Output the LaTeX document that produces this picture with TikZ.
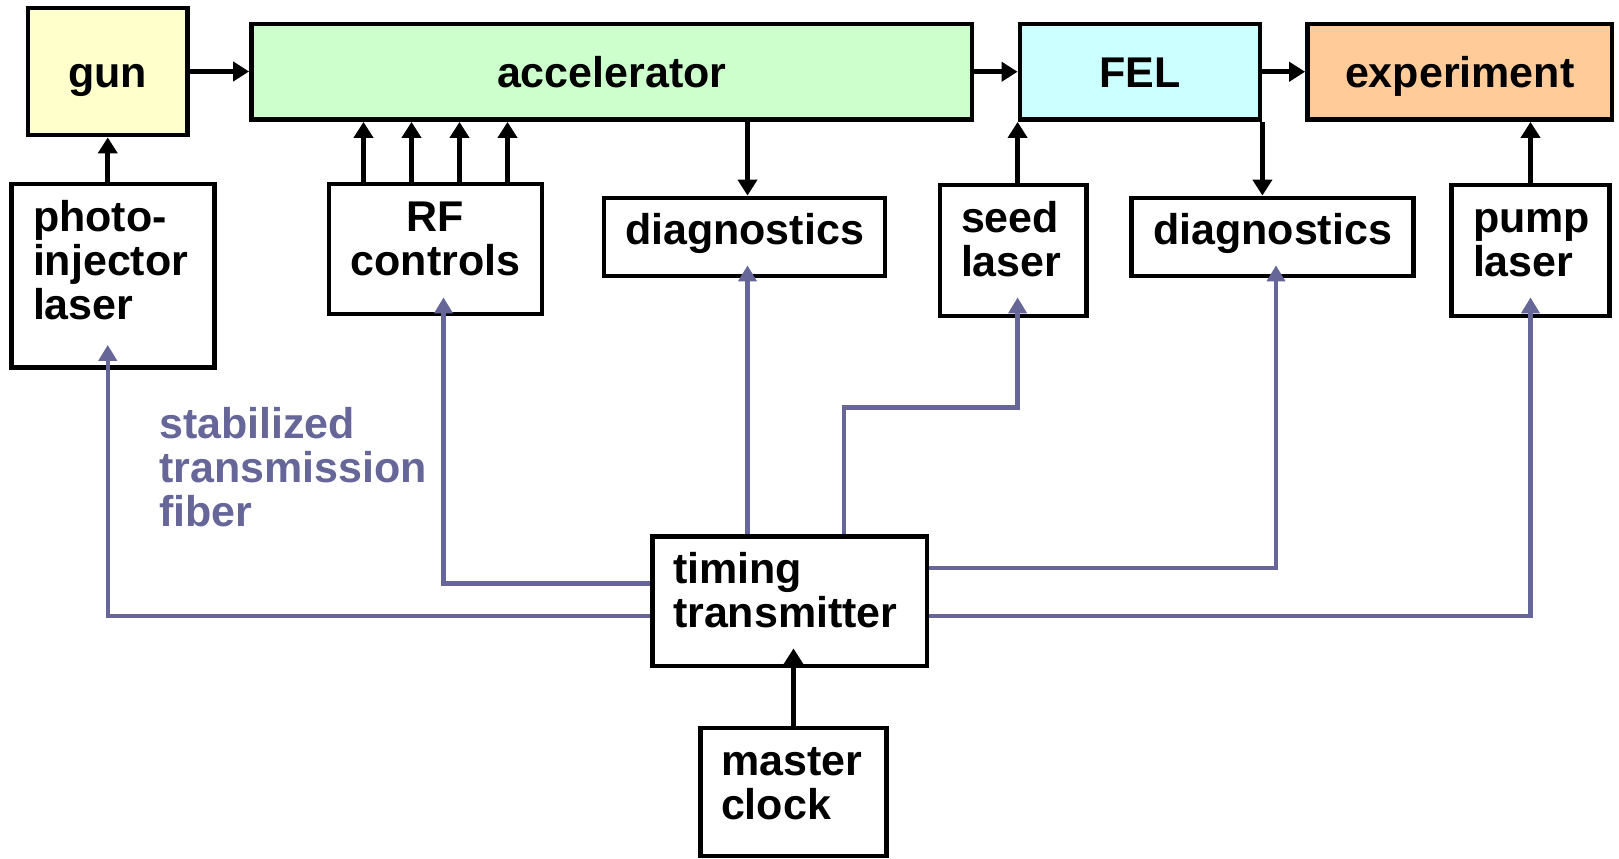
\documentclass[tikz,border=0pt]{standalone}
\usepackage{fontspec}
\setmainfont{Liberation Sans}
\usetikzlibrary{arrows.meta}

\definecolor{fiber}{HTML}{666699}
\definecolor{gunfill}{HTML}{FFFFCC}
\definecolor{accfill}{HTML}{CCFFCC}
\definecolor{felfill}{HTML}{CCFFFF}
\definecolor{expfill}{HTML}{FFCC99}

\begin{document}
\begin{tikzpicture}[x=1pt, y=-1pt,
    box/.style={draw, line width=4.8pt, fill=white, inner sep=0pt,
      font=\fontsize{43}{44}\selectfont\bfseries, text height=31pt},
    top/.style={box, minimum height=95.5pt, text depth=-1pt},
    lbox/.style={box, align=left},
    sig/.style={line width=4.8pt, -{Triangle[length=16pt,width=19pt]}},
    fib/.style={fiber, line width=4.5pt, -{Triangle[length=16pt,width=18pt]}}]
  \useasboundingbox (0,0) rectangle (1619,859);

  % beam line
  \node[top, fill=gunfill, minimum width=159.5pt, minimum height=127pt, text depth=-1.5pt] (gun) at (107.75,71.5) {gun};
  \node[top, fill=accfill, minimum width=720.5pt] (acc) at (611.75,71.75) {accelerator};
  \node[top, fill=felfill, minimum width=240pt] (fel) at (1140,71.75) {FEL};
  \node[top, fill=expfill, minimum width=304.5pt] (exp) at (1459.75,71.75) {experiment};

  % devices
  \node[lbox, minimum width=203pt, minimum height=183.5pt, text width=160pt, text depth=120pt] (pil) at (113,275.75) {photo-\\injector\\laser};
  \node[box, align=center, minimum width=213pt, minimum height=130pt, text width=200pt, text depth=66pt] (rf) at (435.5,249) {RF\\controls};
  \node[box, minimum width=281pt, minimum height=78pt, text depth=17pt] (diag1) at (744.5,237) {diagnostics};
  \node[lbox, minimum width=146.5pt, minimum height=131pt, text width=104.5pt, text depth=68pt] (seed) at (1013.25,250.5) {seed\\laser};
  \node[box, minimum width=282pt, minimum height=78pt, text depth=17pt] (diag2) at (1272.5,237) {diagnostics};
  \node[lbox, minimum width=158pt, minimum height=131pt, text width=115pt, text depth=68pt] (pump) at (1530.5,250.5) {pump\\laser};

  % timing
  \node[lbox, minimum width=274.5pt, minimum height=129.5pt, text width=233.5pt, text depth=66.5pt] (timing) at (789.75,601.25) {timing\\transmitter};
  \node[lbox, minimum width=186pt, minimum height=128pt, text width=145pt, text depth=65pt] (master) at (793.5,792) {master\\clock};

  \node[anchor=base west, inner sep=0pt, text width=300pt, align=left, text=fiber,
    font=\fontsize{43}{44}\selectfont\bfseries] (fiberlbl) at (159,438) {stabilized\\transmission\\fiber};

  \draw[sig] (gun.east) -- (gun.east -| acc.west);
  \draw[sig] (acc) -- (fel);
  \draw[sig] (fel) -- (exp);
  \draw[sig] (pil.north -| gun.south) -- (gun.south);
  \foreach \dx in {-72,-24,24,72}
    \draw[sig] ([xshift=\dx pt]rf.north) -- ([xshift=\dx pt]rf.north |- acc.south);
  \draw[sig] ([xshift=3pt]diag1.north |- acc.south) -- ([xshift=3pt]diag1.north);
  \draw[sig] (seed.north -| fel.west) -- (fel.south west);
  \draw[sig] (fel.south east) -- (fel.south east |- diag2.north);
  \draw[sig] (pump) -- (pump |- exp.south);
  \draw[sig, shorten >=-20pt] (master) -- (master |- timing.south);

  % fibers
  \draw[fib, shorten >=-25pt] ([yshift=-14.5pt]timing.west) -| (pil.south -| gun.south);
  \draw[fib, shorten >=-19pt] ([yshift=18pt]timing.west) -| ([xshift=8pt]rf.south);
  \draw[fib, shorten >=-13pt] ([xshift=3pt]diag1.south |- timing.north) -- ([xshift=3pt]diag1.south);
  \draw[fib, shorten >=-21pt] ([xshift=54.25pt]timing.north) -- ++(0,-126.5) -| (seed.south -| fel.west);
  \draw[fib, shorten >=-13pt] ([yshift=33.5pt]timing.east) -| ([xshift=3.5pt]diag2.south);
  \draw[fib, shorten >=-21pt] ([yshift=-14.5pt]timing.east) -| (pump.south);
\end{tikzpicture}
\end{document}
